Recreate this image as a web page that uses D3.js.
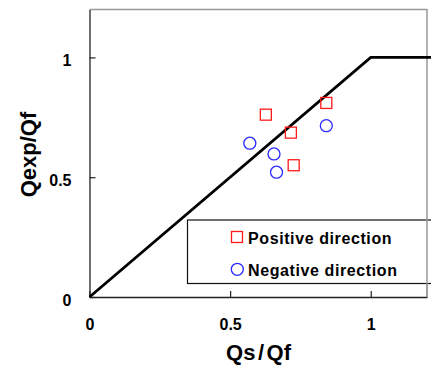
<!DOCTYPE html>
<html><head><meta charset="utf-8">
<script src="https://cdn.jsdelivr.net/npm/d3@7"></script>
<style>body{margin:0;background:#fff}svg{display:block}text{font-family:"Liberation Sans",Arial,sans-serif;font-weight:bold;fill:#000}</style>
</head><body>
<script>
const positiveX = [0.627, 0.716, 0.842, 0.726];
const positiveY = [0.761, 0.686, 0.810, 0.550];
const negativeX = [0.570, 0.656, 0.665, 0.842];
const negativeY = [0.642, 0.597, 0.521, 0.715];
const designX = [0, 1, 1.22];
const designY = [0, 1, 1];
const tickValues = [0, 0.5, 1];
const tickLabels = ["0", "0.5", "1"];
const legendLabels = ["Positive direction", "Negative direction"];

const W = 431, H = 367;
const m = {l: 89.5, t: 9.5, r: 4, b: 70};
const pw = 337.5, ph = 287.5;
const svg = d3.select("body").append("svg").attr("width", W).attr("height", H);
const x = d3.scaleLinear().domain([0, 1.2]).range([m.l, m.l + pw]);
const y = d3.scaleLinear().domain([0, 1.2]).range([m.t + ph, m.t]);

// frame (top/right gray)
svg.append("path").attr("d", `M${x(0)},${y(1.2)}H${x(1.2)}V${y(0)}`)
  .attr("fill", "none").attr("stroke", "#999").attr("stroke-width", 1.5);

// axes
const fmt = d => tickLabels[tickValues.indexOf(d)];
const xAxis = svg.append("g").attr("transform", `translate(0,${y(0)})`)
  .call(d3.axisBottom(x).tickValues(tickValues).tickSizeInner(-6).tickSizeOuter(0).tickFormat(fmt));
const yAxis = svg.append("g").attr("transform", `translate(${x(0)},0)`)
  .call(d3.axisLeft(y).tickValues(tickValues).tickSizeInner(-6).tickSizeOuter(0).tickFormat(fmt));
[xAxis, yAxis].forEach(g => {
  g.select(".domain").attr("stroke", "#222").attr("stroke-width", 1.3);
  g.selectAll(".tick line").attr("stroke", "#222").attr("stroke-width", 1.2);
  g.selectAll("text").attr("font-size", 16).attr("font-family", "Liberation Sans, Arial, sans-serif").attr("font-weight", "bold").attr("fill", "#000");
});
xAxis.selectAll(".tick text").attr("y", 33).attr("dy", 0);
yAxis.selectAll(".tick text").attr("x", -18).attr("dy", "0.5em");

// design line
svg.append("path").datum(designX.map((v, i) => [v, designY[i]]))
  .attr("d", d3.line().x(d => x(d[0])).y(d => y(d[1])))
  .attr("fill", "none").attr("stroke", "#000").attr("stroke-width", 2.8);

// points
const sq = 11;
svg.selectAll(".pos").data(positiveX.map((v, i) => [v, positiveY[i]])).join("rect")
  .attr("x", d => x(d[0]) - sq / 2).attr("y", d => y(d[1]) - sq / 2)
  .attr("width", sq).attr("height", sq)
  .attr("fill", "none").attr("stroke", "#ff1a1a").attr("stroke-width", 1.3);
svg.selectAll(".neg").data(negativeX.map((v, i) => [v, negativeY[i]])).join("circle")
  .attr("cx", d => x(d[0])).attr("cy", d => y(d[1])).attr("r", 6)
  .attr("fill", "none").attr("stroke", "#2a2aff").attr("stroke-width", 1.3);

// legend
const lg = svg.append("g");
lg.append("rect").attr("x", 187.5).attr("y", 220).attr("width", 260).attr("height", 63.5)
  .attr("fill", "#fff").attr("stroke", "#111").attr("stroke-width", 1.2);
lg.append("rect").attr("x", 231.5).attr("y", 231.5).attr("width", 11).attr("height", 11)
  .attr("fill", "none").attr("stroke", "#ff1a1a").attr("stroke-width", 1.3);
lg.append("circle").attr("cx", 237.3).attr("cy", 269.3).attr("r", 6)
  .attr("fill", "none").attr("stroke", "#2a2aff").attr("stroke-width", 1.3);
lg.selectAll(".lt").data(legendLabels).join("text")
  .attr("x", 248).attr("y", (d, i) => 243.5 + i * 32)
  .attr("font-size", 16).attr("letter-spacing", 0.6).text(d => d);

// right frame over legend
svg.append("line").attr("x1", x(1.2)).attr("x2", x(1.2)).attr("y1", 219).attr("y2", y(0))
  .attr("stroke", "#999").attr("stroke-width", 1.5);

// titles
const xt = svg.append("text").attr("x", 258.5).attr("y", 360).attr("text-anchor", "middle").attr("font-size", 22);
xt.append("tspan").text("Qs");
xt.append("tspan").attr("dx", 2.5).text("/");
xt.append("tspan").attr("dx", 2.5).text("Qf");
svg.append("text").attr("transform", "translate(36,154.5) rotate(-90)")
  .attr("text-anchor", "middle").attr("font-size", 22).text("Qexp/Qf");
</script>
</body></html>
